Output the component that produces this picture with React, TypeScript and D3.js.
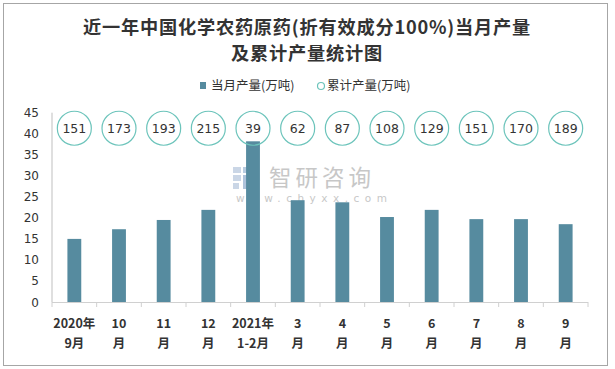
import React from "react";
import * as d3 from "d3";

const categories = ["2020年|9月", "10|月", "11|月", "12|月", "2021年|1-2月", "3|月", "4|月", "5|月", "6|月", "7|月", "8|月", "9|月"];
const monthly = [15.0, 17.3, 19.5, 21.9, 38.2, 24.2, 23.7, 20.2, 21.9, 19.7, 19.7, 18.5];
const cumulative = [151, 173, 193, 215, 39, 62, 87, 108, 129, 151, 170, 189];
const yTicks = [0, 5, 10, 15, 20, 25, 30, 35, 40, 45];
const circleLevel = 41.3;
const titleLines = ["近一年中国化学农药原药(折有效成分100%)当月产量", "及累计产量统计图"];
const legendLabels = ["当月产量(万吨)", "累计产量(万吨)"];

const W = 615, H = 369;
const left = 52, right = 588, top = 112.7, bottom = 302;
const barColor = "#568b9f";
const circleColor = "#6cc4bb";
const sans = "'Noto Sans CJK SC', 'Liberation Sans', sans-serif";
const numFont = "'DejaVu Sans', 'Liberation Sans', sans-serif";

export default function App() {
  const x = d3.scaleBand<string>().domain(categories).range([left, right]).paddingInner(0).paddingOuter(0);
  const y = d3.scaleLinear().domain([0, 45]).range([bottom, top]);
  const bw = x.bandwidth() * 0.31;
  const boundaries = categories.map((c) => x(c)!).concat([right]);

  return (
    <svg width={W} height={H} style={{ position: "absolute", left: 0, top: 0, display: "block" }}>
      <rect x={0} y={0} width={W} height={H} fill="#fff" />
      <rect x={3.5} y={3.5} width={604} height={362} fill="none" stroke="#a6a6a6" strokeWidth={1} />
      {titleLines.map((t, i) => (
        <text key={i} x={307} y={33.5 + i * 26.5} textAnchor="middle" fontFamily="'Noto Sans CJK SC', serif" fontWeight="bold" fontSize={18.2} letterSpacing={0.8} fill="#333">
          {t}
        </text>
      ))}
      {/* legend */}
      <rect x={200} y={82} width={6} height={7} fill={barColor} />
      <text x={211} y={90} fontFamily={sans} fontSize={12.5} fill="#333">{legendLabels[0]}</text>
      <circle cx={321} cy={86} r={3.5} fill="#fff" stroke={circleColor} strokeWidth={1.2} />
      <text x={327} y={90} fontFamily={sans} fontSize={12.5} fill="#333">{legendLabels[1]}</text>

      {/* watermark */}
      <g opacity={0.55}>
        <rect x={233} y={167} width={8} height={6} fill="#9fb6d3" />
        <rect x={233} y={175} width={8} height={6} fill="#9fb6d3" />
        <rect x={233} y={183} width={6} height={6} fill="#9fb6d3" />
        <rect x={243} y={167} width={16} height={6} fill="#7fa3c8" />
        <rect x={243} y={175} width={16} height={14} fill="#6d93bf" />
        <text x={269} y={185.5} fontFamily={sans} fontSize={22.5} fill="#9a9a9a" letterSpacing={4}>智研咨询</text>
        <text x={236} y={202} fontFamily={numFont} fontSize={10.5} fill="#9a9a9a" letterSpacing={5.5}>www.chyxx.com</text>
      </g>

      {/* y axis */}
      <line x1={left} x2={left} y1={top} y2={bottom} stroke="#bfbfbf" />
      {yTicks.map((t) => (
        <text key={t} x={39} y={y(t) + 4.5} textAnchor="end" fontFamily={numFont} fontSize={12} fill="#333">{t}</text>
      ))}

      {/* bars */}
      {monthly.map((v, i) => (
        <rect key={i} x={x(categories[i])! + x.bandwidth() / 2 - bw / 2} y={y(v)} width={bw} height={bottom - y(v)} fill={barColor} />
      ))}

      {/* x axis */}
      <line x1={left} x2={right} y1={bottom + 0.5} y2={bottom + 0.5} stroke="#d0d0d0" />
      {boundaries.map((b, i) => (
        <line key={i} x1={b} x2={b} y1={bottom} y2={bottom + 5} stroke="#d0d0d0" />
      ))}
      {categories.map((c) => {
        const [a, b] = c.split("|");
        const cx = x(c)! + x.bandwidth() / 2;
        return (
          <g key={c}>
            <text x={cx} y={328} textAnchor="middle" fontFamily={sans} fontWeight="bold" fontSize={12.5} fill="#333">{a}</text>
            <text x={cx} y={348} textAnchor="middle" fontFamily={sans} fontWeight="bold" fontSize={12.5} fill="#333">{b}</text>
          </g>
        );
      })}

      {/* cumulative circles */}
      {cumulative.map((v, i) => {
        const cx = x(categories[i])! + x.bandwidth() / 2;
        const cy = y(circleLevel);
        return (
          <g key={i}>
            <circle cx={cx} cy={cy} r={17} fill="#fff" fillOpacity={0} stroke={circleColor} strokeWidth={1.2} />
            <text x={cx} y={cy + 4.5} textAnchor="middle" fontFamily={numFont} fontSize={12.5} fill="#333">{v}</text>
          </g>
        );
      })}
    </svg>
  );
}
